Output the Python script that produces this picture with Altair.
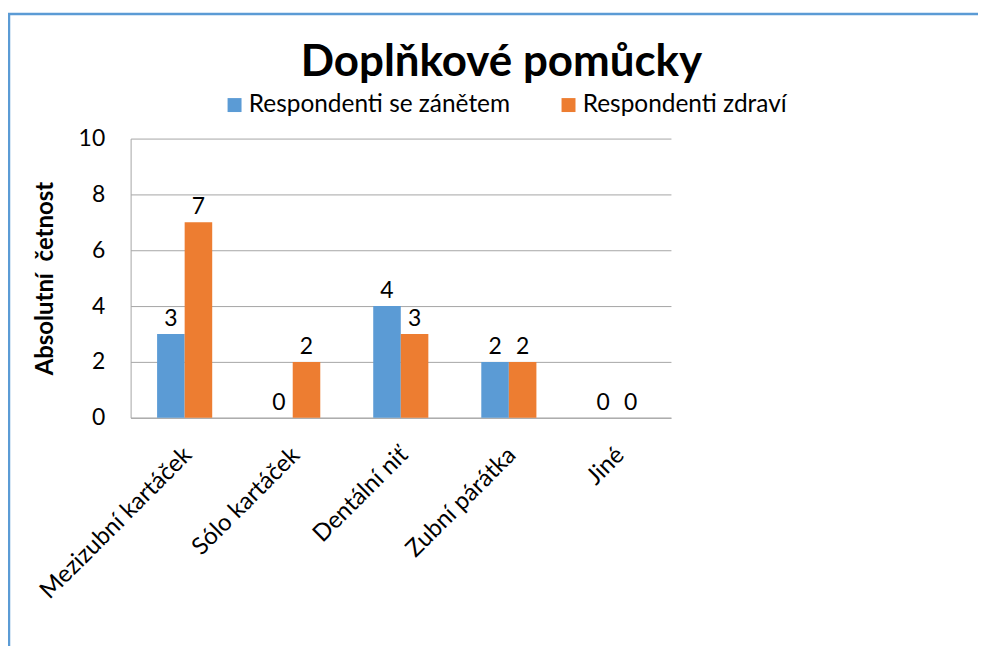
import altair as alt
import pandas as pd

categories = ["Mezizubní kartáček", "Sólo kartáček", "Dentální niť", "Zubní párátka", "Jiné"]
series_names = ["Respondenti se zánětem", "Respondenti zdraví"]
zanet = [3, 0, 4, 2, 0]
zdravi = [7, 2, 3, 2, 0]
y_ticks = [0, 2, 4, 6, 8, 10]
chart_title = "Doplňkové pomůcky"
y_title = "Absolutní\u00a0\u00a0četnost"

rows = []
for i, c in enumerate(categories):
    rows.append({"kat": c, "serie": series_names[0], "hodnota": zanet[i]})
    rows.append({"kat": c, "serie": series_names[1], "hodnota": zdravi[i]})
df = pd.DataFrame(rows)

FONT = "Lato"
BLUE = "#5B9BD5"
ORANGE = "#ED7D31"

x_enc = alt.X("kat:N", sort=categories, title=None,
              scale=alt.Scale(paddingInner=0.49, paddingOuter=0.245),
              axis=alt.Axis(labelAngle=-45, labelAlign="right", labelBaseline="top",
                            labelPadding=25, labelOffset=-5, labelFontSize=24, ticks=False,
                            domainColor="#A6A6A6", labelColor="#000000", labelFont=FONT,
                            labelLimit=400))
xo_enc = alt.XOffset("serie:N", sort=series_names,
                     scale=alt.Scale(paddingInner=0, paddingOuter=0))
y_enc = alt.Y("hodnota:Q", title=y_title,
              scale=alt.Scale(domain=[0, 10]),
              axis=alt.Axis(values=y_ticks, ticks=False, labelPadding=26, labelFontSize=23,
                            labelFont=FONT, labelColor="#000000",
                            titleFont=FONT, titleFontSize=24, titleFontWeight="bold",
                            titleColor="#000000", titlePadding=21,
                            grid=True, gridColor="#A6A6A6", domainColor="#A6A6A6"))
color_enc = alt.Color("serie:N", sort=series_names,
                      scale=alt.Scale(domain=series_names, range=[BLUE, ORANGE]),
                      legend=alt.Legend(title=None, orient="none", direction="horizontal",
                                        legendX=92, legendY=-46, symbolType="square",
                                        symbolSize=196, symbolStrokeWidth=0,
                                        labelFontSize=24.5, labelFont=FONT, labelColor="#000000",
                                        labelOffset=2, columnPadding=46, labelLimit=400))

base = alt.Chart(df)
bars = base.mark_bar().encode(x=x_enc, xOffset=xo_enc, y=y_enc, color=color_enc)
labels = base.mark_text(baseline="bottom", dy=-3, fontSize=23, font=FONT, color="#000000").encode(
    x=alt.X("kat:N", sort=categories), xOffset=alt.XOffset("serie:N", sort=series_names),
    y=alt.Y("hodnota:Q"), text=alt.Text("hodnota:Q"))

one = pd.DataFrame({"t": [chart_title]})
frame = alt.Chart(one).mark_rect(
    fill="transparent", stroke=BLUE, strokeWidth=2.5).encode(
    x=alt.value(-122), x2=alt.value(1000), y=alt.value(-125), y2=alt.value(700))
title_mark = alt.Chart(one).mark_text(
    font=FONT, fontSize=44, fontWeight="bold", color="#000000",
    align="center", baseline="alphabetic").encode(
    x=alt.value(372), y=alt.value(-63), text="t:N")

chart = alt.layer(frame, title_mark, bars, labels).properties(
    width=542, height=280,
    autosize=alt.AutoSizeParams(type="none"),
    padding={"left": 123, "top": 130, "right": 308, "bottom": 228},
).configure_view(stroke=None)

chart.save("out.html", embed_options={"renderer": "svg", "actions": False})
